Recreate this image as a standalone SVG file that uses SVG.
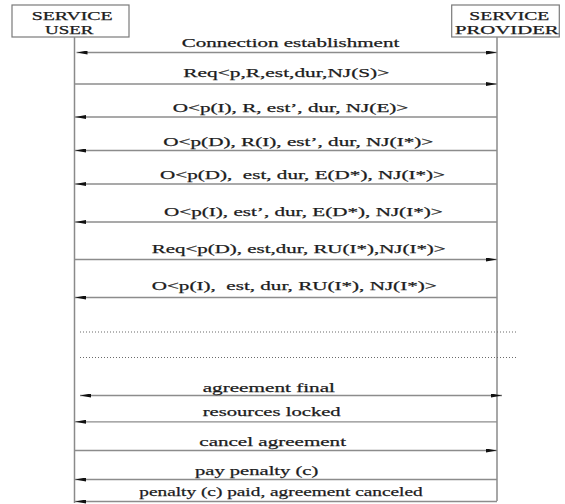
<svg xmlns="http://www.w3.org/2000/svg" width="565" height="504" viewBox="0 0 565 504">
<style>
text{font-family:"Liberation Serif","Times New Roman",serif;font-size:13.5px;fill:#1c1c1c;stroke:#1c1c1c;stroke-width:0.25;white-space:pre}
.hd{font-size:11.5px}
.box{fill:#fff;stroke:#7a7a7a;stroke-width:1.2}
.life{stroke:#8a8a8a;stroke-width:1.5;fill:none}
.msg{stroke:#8c8c8c;stroke-width:1.3;fill:none}
.arr{marker-end:url(#ah)}
.dbl{marker-start:url(#ah);marker-end:url(#ah)}
.dot{stroke:#6a6a6a;stroke-width:1.2;stroke-dasharray:1 2;fill:none}
</style>
<defs>
<marker id="ah" viewBox="0 0 11 4" refX="11" refY="2" markerWidth="11" markerHeight="4" markerUnits="userSpaceOnUse" orient="auto-start-reverse">
<path d="M0,0 L11,2 L0,4 z" fill="#111"/>
</marker>
</defs>
<g id="user">
<rect class="box" x="12" y="5" width="117" height="32"/>
<text class="hd" x="31.7" y="20" textLength="81" lengthAdjust="spacingAndGlyphs">SERVICE</text>
<text class="hd" x="45" y="33.6" textLength="48.3" lengthAdjust="spacingAndGlyphs">USER</text>
<line class="life" x1="74.5" y1="37" x2="74.5" y2="503"/>
</g>
<g id="provider">
<rect class="box" x="451.7" y="5" width="107.6" height="32"/>
<text class="hd" x="469.3" y="20" textLength="80" lengthAdjust="spacingAndGlyphs">SERVICE</text>
<text class="hd" x="455" y="33.6" textLength="103.7" lengthAdjust="spacingAndGlyphs">PROVIDER</text>
<line class="life" x1="497" y1="37" x2="497" y2="501"/>
</g>
<g id="connectors">
<line class="msg dbl" x1="76.5" y1="52.5" x2="497" y2="52.5"/>
<line class="msg arr" x1="74.5" y1="84" x2="497" y2="84"/>
<line class="msg arr" x1="497" y1="117" x2="75" y2="117"/>
<line class="msg arr" x1="497" y1="150.5" x2="75" y2="150.5"/>
<line class="msg arr" x1="497" y1="184" x2="75" y2="184"/>
<line class="msg arr" x1="497" y1="222" x2="75" y2="222"/>
<line class="msg arr" x1="74.5" y1="259.5" x2="497" y2="259.5"/>
<line class="msg arr" x1="497" y1="297.5" x2="75" y2="297.5"/>
<line class="dot" x1="80" y1="332" x2="517" y2="332"/>
<line class="dot" x1="80" y1="357.5" x2="517" y2="357.5"/>
<line class="msg dbl" x1="80" y1="395.5" x2="502" y2="395.5"/>
<line class="msg arr" x1="497" y1="421.8" x2="75" y2="421.8"/>
<line class="msg arr" x1="74.5" y1="450.5" x2="497" y2="450.5"/>
<line class="msg arr" x1="497" y1="479.5" x2="75" y2="479.5"/>
<line class="msg arr" x1="497" y1="501.5" x2="75" y2="501.5"/>
</g>
<g id="labels">
<text x="181.7" y="46.7" textLength="217.6" lengthAdjust="spacingAndGlyphs">Connection establishment</text>
<text x="183.3" y="77" textLength="206" lengthAdjust="spacingAndGlyphs">Req&lt;p,R,est,dur,NJ(S)&gt;</text>
<text x="172.7" y="111.5" textLength="235.6" lengthAdjust="spacingAndGlyphs">O&lt;p(I), R, est’, dur, NJ(E)&gt;</text>
<text x="163.3" y="145.5" textLength="270" lengthAdjust="spacingAndGlyphs">O&lt;p(D), R(I), est’, dur, NJ(I*)&gt;</text>
<text x="160" y="178.8" textLength="285" lengthAdjust="spacingAndGlyphs">O&lt;p(D),  est, dur, E(D*), NJ(I*)&gt;</text>
<text x="164" y="216" textLength="278.7" lengthAdjust="spacingAndGlyphs">O&lt;p(I), est’, dur, E(D*), NJ(I*)&gt;</text>
<text x="151.7" y="253" textLength="294" lengthAdjust="spacingAndGlyphs">Req&lt;p(D), est,dur, RU(I*),NJ(I*)&gt;</text>
<text x="151.7" y="289.5" textLength="285" lengthAdjust="spacingAndGlyphs">O&lt;p(I),  est, dur, RU(I*), NJ(I*)&gt;</text>
<text x="202.7" y="391.5" textLength="132.3" lengthAdjust="spacingAndGlyphs">agreement final</text>
<text x="202.7" y="415.5" textLength="138" lengthAdjust="spacingAndGlyphs">resources locked</text>
<text x="199.3" y="446" textLength="146.7" lengthAdjust="spacingAndGlyphs">cancel agreement</text>
<text x="195" y="474.5" textLength="123.3" lengthAdjust="spacingAndGlyphs">pay penalty (c)</text>
<text x="139.3" y="496" textLength="283.4" lengthAdjust="spacingAndGlyphs">penalty (c) paid, agreement canceled</text>
</g>
</svg>
